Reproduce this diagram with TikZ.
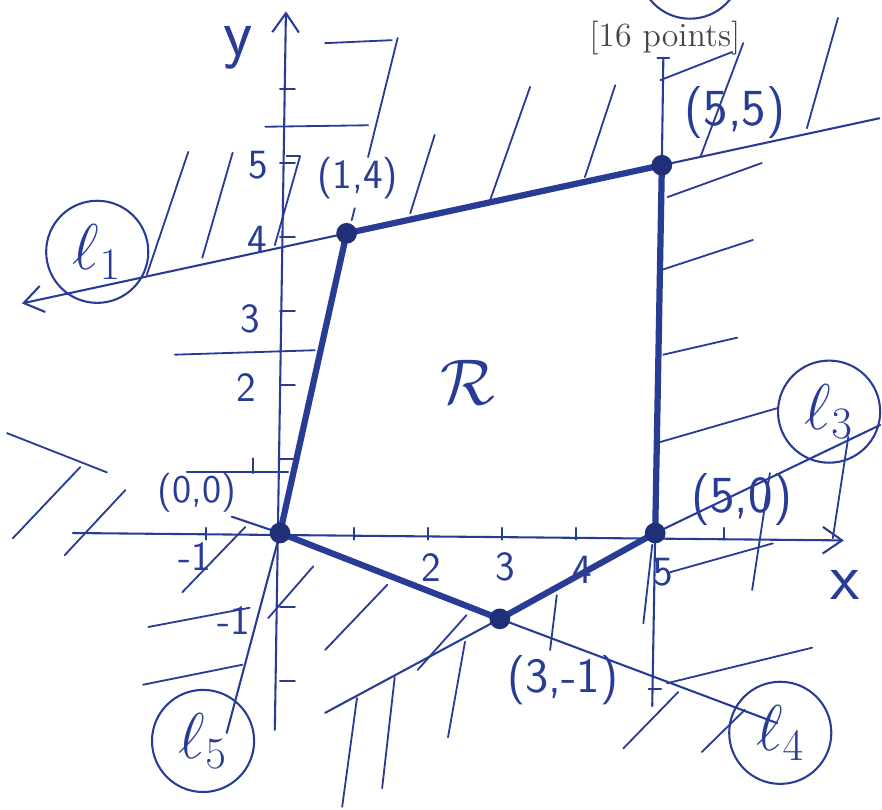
\documentclass[tikz,border=0pt]{standalone}
\usepackage{amsmath}
\usepackage{amssymb}
\usepackage{tikz}
\usetikzlibrary{calc}
\usetikzlibrary{arrows.meta}

\definecolor{ink}{RGB}{40,60,150}
\definecolor{printgray}{RGB}{70,70,70}

\begin{document}
\begin{tikzpicture}[ink, line cap=round,
        >={Straight Barb[length=2.6mm,width=3.6mm]},
        axisline/.style={line width=0.8pt},
        constraint/.style={line width=0.8pt},
        hatch/.style={line width=0.7pt},
        boundary/.style={line width=2.4pt, line join=round},
        vertex/.style={circle, fill=ink!80!black, inner sep=0pt, minimum size=0.28cm},
        ticklabel/.style={font=\sffamily\fontsize{16}{18}\selectfont},
        coordlabel/.style={font=\sffamily\fontsize{#1}{#1}\selectfont},
        coordlabel/.default=18,
        linelabel/.style={draw, circle, line width=0.8pt, minimum size=1.38cm, inner sep=0pt,
            font=\fontsize{26}{28}\selectfont}]
    \useasboundingbox (-3.784,-3.730) rectangle (8.135,7.203);

    % vertices of R
    \coordinate (O) at (0,0);
    \coordinate (A) at (0.90,4.05);
    \coordinate (B) at (5.16,4.97);
    \coordinate (C) at (5.07,0);
    \coordinate (D) at (2.97,-1.16);

    % axes
    \coordinate (xstart) at (-2.80,0);
    \coordinate (xend) at (7.62,-0.10);
    \coordinate (ystart) at (-0.07,-2.66);
    \coordinate (yend) at (0.08,7.05);
    \draw[axisline,->] (xstart) -- (xend);
    \draw[axisline,->] (ystart) -- (yend);
    \foreach \t in {-2,-1,1,2,3,4,5,6}
        \draw[axisline] (0,\t) -- (0.2,\t);
    \foreach \t in {-1,1,2,3,4,5,6}
        \draw[axisline] (\t,0.07) -- (\t,-0.09);
    \node[font=\sffamily\fontsize{26}{28}\selectfont] (ylab) at (-0.57,6.55) {y};
    \node[font=\sffamily\fontsize{26}{28}\selectfont] (xlab) at (7.64,-0.70) {x};

    \node[ticklabel] (y5) at (-0.30,4.97) {5};
    \node[ticklabel] (y4) at (-0.31,3.96) {4};
    \node[ticklabel] (y3) at (-0.40,2.90) {3};
    \node[ticklabel] (y2) at (-0.46,1.96) {2};
    \node[ticklabel] (ym1) at (-0.62,-1.18) {-1};
    \node[ticklabel] (xm1) at (-1.15,-0.32) {-1};
    \node[ticklabel] (x2) at (2.05,-0.46) {2};
    \node[ticklabel] (x3) at (3.04,-0.46) {3};
    \node[ticklabel] (x4) at (4.08,-0.50) {4};
    \node[ticklabel] (x5) at (5.18,-0.53) {5};

    % constraint lines
    \coordinate (l1a) at ($(A)!-1.03!(B)$);
    \coordinate (l1b) at ($(A)!1.69!(B)$);
    \coordinate (l2a) at (5.18,6.42);
    \coordinate (l2b) at (5.03,-2.34);
    \coordinate (l3a) at (0.61,-2.43);
    \coordinate (l3b) at (8.11,1.46);
    \coordinate (l4a) at (-0.65,0.22);
    \coordinate (l4b) at (6.72,-2.57);
    \coordinate (l5b) at (-0.72,-2.70);
    \draw[constraint,<-] (l1a) -- (l1b);
    \draw[constraint] (l2a) -- (B) (C) -- (l2b);
    \draw[constraint] (l3a) -- (D) (C) -- (l3b);
    \draw[constraint] (l4a) -- (O) (D) -- (l4b);
    \draw[constraint] (O) -- (l5b);

    % hatching
    \foreach \xa/\ya/\xb/\yb in {0.61/6.62/1.51/6.66, 1.59/6.69/1.19/5.08,
            -0.20/5.49/1.19/5.51, 0.09/5.09/0.27/5.09, 0.27/5.09/-0.07/3.89,
            -1.24/5.15/-1.80/3.49, -0.64/5.14/-1.05/3.72, 2.09/5.38/1.76/4.32,
            3.38/6.03/2.84/4.50, 4.53/6.05/4.12/4.81, 6.26/6.62/5.68/5.08,
            5.14/6.12/6.11/6.50, 7.54/6.96/7.12/5.47, 5.24/4.54/6.51/5.00,
            5.14/3.55/6.39/3.96, 5.18/2.41/6.18/2.64, 5.14/1.23/6.73/1.69,
            7.68/1.30/7.47/-0.07, 6.62/0.81/6.38/-0.77, 5.27/-0.53/6.66/-0.14,
            4.91/-1.22/5.03/-0.16, 3.74/-0.84/3.65/-1.58, 2.50/-1.47/2.27/-2.76,
            2.52/-1.11/1.86/-1.85, 4.64/-2.91/5.38/-2.15, 5.70/-2.96/6.28/-2.39,
            5.23/-2.03/7.19/-1.55, 0.45/-0.45/-0.16/-1.15, 1.45/-0.70/0.61/-1.58,
            1.04/-2.23/0.84/-3.70, 1.55/-1.95/1.38/-3.45, -0.47/0.08/-1.32/-0.80,
            -3.69/1.35/-2.34/0.82, -2.70/0.89/-3.61/-0.07, -2.09/0.58/-2.91/-0.30,
            -1.42/2.41/0.47/2.47, -1.26/0.82/0.11/0.82, -0.36/1.01/-0.36/0.81,
            -1.78/-1.27/-0.41/-1.01, -1.85/-2.05/-0.51/-1.78, 1.01/4.39/0.97/4.23,
            5.10/6.42/5.26/6.42, 4.98/-2.11/5.15/-2.11}
        \draw[hatch] (\xa,\ya) -- (\xb,\yb);

    % feasible region
    \draw[boundary] (O) -- (A) -- (B) -- (C) -- (D) -- cycle;
    \foreach \p in {O,A,B,C,D}
        \node[vertex] (v\p) at (\p) {};
    \node[font=\fontsize{40}{44}\selectfont] (R) at (2.54,2.04) {$\mathcal{R}$};

    \node[coordlabel=15] (lO) at (-1.12,0.54) {(0,0)};
    \node[coordlabel=16] (lA) at (1.05,4.80) {(1,4)};
    \node[coordlabel=20] (lB) at (6.15,5.68) {(5,5)};
    \node[coordlabel=20] (lC) at (6.24,0.45) {(5,0)};
    \node[coordlabel=19] (lD) at (3.82,-1.99) {(3,-1)};

    % line names
    \node[linelabel] (l1) at (-2.47,3.80) {$\ell_1$};
    \node[linelabel] (l2) at (5.54,7.64) {$\ell_2$};
    \node[linelabel] (l3) at (7.42,1.64) {$\ell_3$};
    \node[linelabel] (l4) at (6.76,-2.70) {$\ell_4$};
    \node[linelabel] (l5) at (-1.04,-2.81) {$\ell_5$};

    \node[printgray, font=\fontsize{13}{15}\selectfont] (pts) at (5.20,6.69) {[16 points]};
\end{tikzpicture}
\end{document}
